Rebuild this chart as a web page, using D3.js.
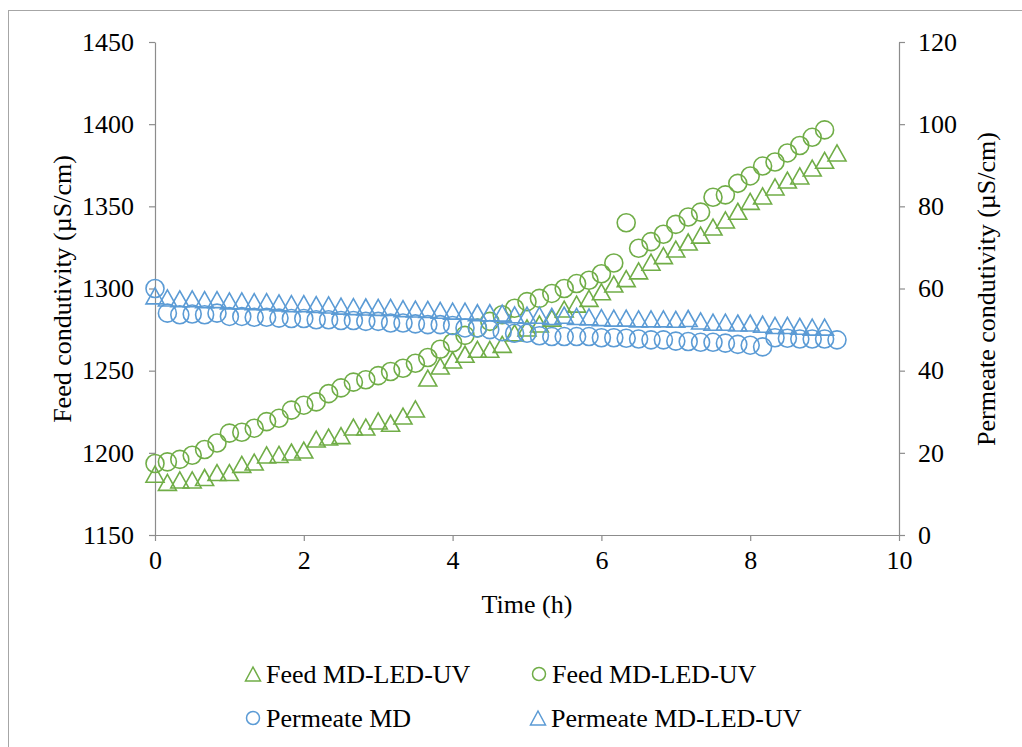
<!DOCTYPE html>
<html>
<head>
<meta charset="utf-8">
<script src="https://cdn.jsdelivr.net/npm/d3@7"></script>
<style>
  body { margin: 0; background: #fff; }
  svg { display: block; }
  text { font-family: "Liberation Serif", "Times New Roman", serif; fill: #000; }
</style>
</head>
<body>
<svg id="chart" width="1022" height="747"></svg>
<script>
// Sampling times (minutes), one reading every 10 min
const minutes = [0,10,20,30,40,50,60,70,80,90,100,110,120,130,140,150,160,170,180,190,
  200,210,220,230,240,250,260,270,280,290,300,310,320,330,340,350,360,370,380,390,
  400,410,420,430,440,450,460,470,480,490,500,510,520,530,540,550];

// Feed conductivity, left axis (µS/cm)
const feedTriangle = [1187,1182,1183.5,1183.5,1185,1188,1188,1193,1194.4,1198.7,
  1199,1200.5,1201.7,1208.4,1209.6,1210.5,1215.7,1215.7,1219.4,1218,
  1222.4,1226.7,1245.5,1252.8,1256.5,1260,1263,1263,1266,1273,
  1276,1278.4,1282,1287.5,1290.5,1294,1298,1302.7,1306,1310.7,
  1316,1320,1324,1328.3,1332.5,1337.4,1341.7,1347,1353,1356.3,
  1361.8,1366,1368.5,1373.3,1378,1382.5];
const feedCircle = [1193.5,1194.5,1196,1198.5,1202,1206,1212,1212.5,1215,1219,
  1221,1226,1229,1231,1236,1239.5,1243,1244.5,1247,1249.5,
  1251.5,1254.5,1258,1263,1267,1271.5,1276,1280,1284,1288,
  1292,1294,1297,1300,1303,1305,1309,1315.5,1340,1324.5,
  1328.5,1333,1339,1343.5,1346.5,1355.5,1357,1364,1368.5,1374.5,
  1377,1382.5,1387,1392,1396.5];

// Permeate conductivity, right axis (µS/cm)
const permeateCircle = [60,54,53.6,53.8,53.6,54,53.2,53.2,53,53,
  52.8,52.7,52.7,52.4,52.4,52.2,52.2,52,52,51.6,
  51.6,51.4,51.2,51.2,51,50.4,50.4,50,49.5,49.1,
  49.1,48.5,48.3,48.3,48.3,48.3,48,48,47.9,47.7,
  47.5,47.5,47.2,47.1,46.9,46.9,46.7,46.4,46.2,45.8,
  48,47.9,47.7,47.7,47.7,47.5];
const permeateTriangle = [58.2,57.7,57.5,57.5,57.3,57.3,57,57,56.8,56.8,
  56.5,56.3,56.3,56.1,56,55.7,55.6,55.5,55.4,55.4,
  55.1,55,54.9,54.7,54.5,54.5,54.1,54.1,54,53.6,
  53.5,53.5,53.2,53.5,53.2,53.1,52.9,52.8,52.8,52.6,
  52.6,52.6,52.5,52.7,52.1,51.8,51.8,51.6,51.6,51.3,
  51,51,50.8,50.6,50.6];

const xTicks = [0, 2, 4, 6, 8, 10];
const leftTicks = [1150, 1200, 1250, 1300, 1350, 1400, 1450];
const rightTicks = [0, 20, 40, 60, 80, 100, 120];

const legendLabels = ["Feed MD-LED-UV", "Feed MD-LED-UV", "Permeate MD", "Permeate MD-LED-UV"];

const GREEN = "#70AD47", BLUE = "#5B9BD5", AXIS = "#8c8c8c";
const FONT = 26;

const svg = d3.select("#chart");

// outer chart border
svg.append("rect").attr("x", 8.5).attr("y", 10.5).attr("width", 1100).attr("height", 800)
  .attr("fill", "none").attr("stroke", "#a6a6a6").attr("stroke-width", 1);

const x = d3.scaleLinear().domain([0, 10]).range([155, 899]);
const yL = d3.scaleLinear().domain([1150, 1450]).range([535, 42]);
const yR = d3.scaleLinear().domain([0, 120]).range([535, 42]);

function styleAxis(g) {
  g.selectAll("path.domain").attr("stroke", AXIS).attr("stroke-width", 1.2);
  g.selectAll(".tick line").attr("stroke", AXIS).attr("stroke-width", 1.2);
  g.selectAll(".tick text").attr("font-size", FONT)
    .attr("font-family", '"Liberation Serif","Times New Roman",serif').attr("fill", "#000");
}

const fmt = d3.format("d");
svg.append("g").attr("transform", "translate(155,0)")
  .call(d3.axisLeft(yL).tickValues(leftTicks).tickFormat(fmt).tickSizeInner(6).tickSizeOuter(0).tickPadding(15))
  .call(styleAxis);
svg.append("g").attr("transform", "translate(899,0)")
  .call(d3.axisRight(yR).tickValues(rightTicks).tickFormat(fmt).tickSizeInner(6).tickSizeOuter(0).tickPadding(13))
  .call(styleAxis);
svg.append("g").attr("transform", "translate(0,535)")
  .call(d3.axisBottom(x).tickValues(xTicks).tickFormat(fmt).tickSizeInner(6).tickSizeOuter(0).tickPadding(10))
  .call(styleAxis);

// axis titles
svg.append("text").attr("transform", "translate(62,289) rotate(-90)")
  .attr("text-anchor", "middle").attr("dominant-baseline", "central").attr("font-size", FONT)
  .text("Feed condutivity (µS/cm)");
svg.append("text").attr("transform", "translate(986,289) rotate(-90)")
  .attr("text-anchor", "middle").attr("dominant-baseline", "central").attr("font-size", FONT)
  .text("Permeate condutivity (µS/cm)");
svg.append("text").attr("x", 527).attr("y", 604)
  .attr("text-anchor", "middle").attr("dominant-baseline", "central").attr("font-size", FONT)
  .text("Time (h)");

// marker shapes
const TRI_W = 18, TRI_H = 16, CIRC_R = 9;
const triPath = (w, h) => `M0,${-h / 2}L${w / 2},${h / 2}L${-w / 2},${h / 2}Z`;

function drawTriangles(values, yScale, color) {
  svg.append("g").selectAll("path").data(values).join("path")
    .attr("d", triPath(TRI_W, TRI_H))
    .attr("transform", (d, i) => `translate(${x(minutes[i] / 60)},${yScale(d)})`)
    .attr("fill", "none").attr("stroke", color).attr("stroke-width", 1.6);
}
function drawCircles(values, yScale, color) {
  svg.append("g").selectAll("circle").data(values).join("circle")
    .attr("cx", (d, i) => x(minutes[i] / 60)).attr("cy", d => yScale(d)).attr("r", CIRC_R)
    .attr("fill", "none").attr("stroke", color).attr("stroke-width", 1.6);
}

drawTriangles(feedTriangle, yL, GREEN);
drawCircles(feedCircle, yL, GREEN);
drawCircles(permeateCircle, yR, BLUE);
drawTriangles(permeateTriangle, yR, BLUE);

// legend
const legendItems = [
  { label: legendLabels[0], shape: "tri", color: GREEN, mx: 253, tx: 266, y: 674 },
  { label: legendLabels[1], shape: "circ", color: GREEN, mx: 539, tx: 552, y: 674 },
  { label: legendLabels[2], shape: "circ", color: BLUE, mx: 253, tx: 266, y: 718 },
  { label: legendLabels[3], shape: "tri", color: BLUE, mx: 538, tx: 551, y: 718 }
];
const lg = svg.append("g");
legendItems.forEach(it => {
  if (it.shape === "tri") {
    lg.append("path").attr("d", triPath(15, 14)).attr("transform", `translate(${it.mx},${it.y})`)
      .attr("fill", "none").attr("stroke", it.color).attr("stroke-width", 1.5);
  } else {
    lg.append("circle").attr("cx", it.mx).attr("cy", it.y).attr("r", 6.5)
      .attr("fill", "none").attr("stroke", it.color).attr("stroke-width", 1.5);
  }
  lg.append("text").attr("x", it.tx).attr("y", it.y).attr("dominant-baseline", "central")
    .attr("font-size", FONT).text(it.label);
});
</script>
</body>
</html>
